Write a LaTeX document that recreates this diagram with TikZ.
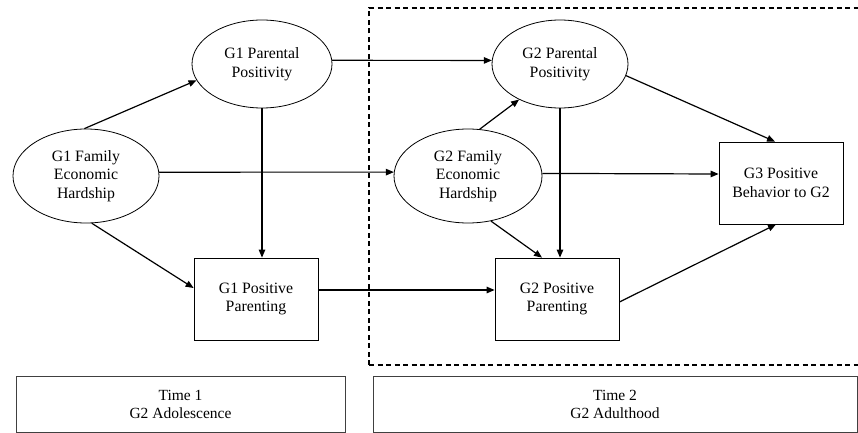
\documentclass[tikz,border=0pt]{standalone}
\usepackage{fontspec}
\setmainfont{Liberation Serif}
\usetikzlibrary{arrows.meta,shapes.geometric}
\tikzset{
  lat/.style={ellipse,draw,line width=0.8pt,inner sep=0pt,align=center,font=\fontsize{15.8}{18.5}\selectfont},
  obs/.style={rectangle,draw,line width=0.8pt,inner sep=0pt,align=center,font=\fontsize{15.8}{18.5}\selectfont},
  timebox/.style={rectangle,draw=black!75,line width=0.7pt,inner sep=0pt,align=center,font=\fontsize{15.5}{18}\selectfont},
  arr/.style={line width=1.2pt,-{Triangle[length=8pt,width=6.5pt]}},
  grp/.style={line width=1.1pt,dash pattern=on 5pt off 3.5pt}
}
\begin{document}
\begin{tikzpicture}[x=1pt,y=-1pt]
\useasboundingbox (0,0) rectangle (858,433);
% dashed region
\draw[grp] (369,365) -- (369,8) -- (862,8);
\draw[grp] (369,365) -- (862,365);
% nodes
\node[lat,minimum width=140pt,minimum height=88pt] (g1pp) at (262,64) {G1 Parental\\Positivity};
\node[lat,minimum width=146pt,minimum height=94pt] (g1feh) at (86,176) {G1 Family\\Economic\\Hardship};
\node[obs,minimum width=124pt,minimum height=82pt] (g1pos) at (256,299) {G1 Positive\\Parenting};
\node[lat,minimum width=136pt,minimum height=88pt] (g2pp) at (560,64) {G2 Parental\\Positivity};
\node[lat,minimum width=148pt,minimum height=94pt] (g2feh) at (468,176) {G2 Family\\Economic\\Hardship};
\node[obs,minimum width=124pt,minimum height=82pt] (g2pos) at (557,299) {G2 Positive\\Parenting};
\node[obs,minimum width=124pt,minimum height=82pt] (g3) at (781,183) {G3 Positive\\Behavior to G2};
\node[timebox,minimum width=329pt,minimum height=56pt] (t1) at (180.5,404) {Time 1\\G2 Adolescence};
\node[timebox,minimum width=484pt,minimum height=56pt] (t2) at (615,404) {Time 2\\G2 Adulthood};
% connectors
\draw[arr] (g1feh.92) -- (g1pp.194.7);
\draw[arr] (g1feh.3) -- (g2feh.177);
\draw[arr] (g1feh.-83) -- ([yshift=11pt]g1pos.west);
\draw[arr] (g1pp.south) -- (g1pp.south |- g1pos.north);
\draw[arr] (g1pp.3) -- (g2pp.177);
\draw[arr] ([yshift=9pt]g1pos.east) -- ([yshift=9pt]g2pos.west);
\draw[arr] (g2feh.76) -- (g2pp.221.4);
\draw[arr] (g2pp.south) -- (g2pp.south |- g2pos.north);
\draw[arr] (g2feh.-63.4) -- ([xshift=-15pt]g2pos.north);
\draw[arr] (g2feh.2) -- ([yshift=9pt]g3.west);
\draw[arr] (g2pp.-10.3) -- ([xshift=-6pt]g3.north);
\draw[arr] ([yshift=-3pt]g2pos.east) -- ([xshift=-5pt]g3.south);
\end{tikzpicture}
\end{document}
